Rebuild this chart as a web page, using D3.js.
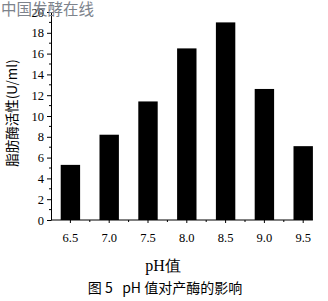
<!DOCTYPE html>
<meta charset="utf-8">
<head>
  <script src="https://cdnjs.cloudflare.com/ajax/libs/d3/7.8.5/d3.min.js"></script>
  <style>
    body { margin: 0; background: #fff; }
    svg { display: block; }
  </style>
</head>
<body>
  <div id="my_dataviz"></div>
  <script>

    // data
    var phLabels = ["6.5", "7.0", "7.5", "8.0", "8.5", "9.0", "9.5"];
    var activity = [5.3, 8.2, 11.4, 16.5, 19.0, 12.6, 7.1];
    var yTicks = [0, 2, 4, 6, 8, 10, 12, 14, 16, 18, 20];

    var width = 328, height = 301;
    var margin = { top: 12, left: 51, bottom: 81 };
    var plotBottom = height - margin.bottom;

    var svg = d3.select("#my_dataviz")
      .append("svg")
      .attr("width", width)
      .attr("height", height);

    var serif = "'Liberation Serif', 'DejaVu Serif', serif";
    var cjk = "'Noto Sans CJK SC', sans-serif";

    // scales
    var x = d3.scaleBand()
      .domain(phLabels)
      .range([margin.left, 322.6])
      .paddingInner(0.5)
      .paddingOuter(0.25);

    var y = d3.scaleLinear()
      .domain([0, 20])
      .range([plotBottom, margin.top]);

    // bars
    svg.selectAll("rect.bar")
      .data(activity)
      .enter()
      .append("rect")
      .attr("class", "bar")
      .attr("x", function (d, i) { return x(phLabels[i]); })
      .attr("y", function (d) { return y(d); })
      .attr("width", x.bandwidth())
      .attr("height", function (d) { return y(0) - y(d); })
      .attr("fill", "#000");

    // Y axis with minor ticks
    var yAxis = svg.append("g")
      .attr("transform", "translate(" + margin.left + ",0)")
      .call(d3.axisLeft(y).tickValues(yTicks).tickSize(4).tickPadding(3).tickSizeOuter(0));
    yAxis.selectAll("text").style("font-family", serif).style("font-size", "12.5px").attr("fill", "#000");
    yAxis.selectAll("line, path").attr("stroke", "#000");

    svg.append("g")
      .selectAll("line")
      .data(d3.range(1, 20, 2))
      .enter()
      .append("line")
      .attr("x1", margin.left - 2)
      .attr("x2", margin.left)
      .attr("y1", function (d) { return y(d); })
      .attr("y2", function (d) { return y(d); })
      .attr("stroke", "#000");

    // X axis
    var lastEnd = x(phLabels[phLabels.length - 1]) + x.bandwidth();
    svg.append("line")
      .attr("x1", margin.left)
      .attr("x2", lastEnd)
      .attr("y1", plotBottom)
      .attr("y2", plotBottom)
      .attr("stroke", "#000");

    var xg = svg.append("g");
    xg.selectAll("line.major")
      .data(phLabels)
      .enter()
      .append("line")
      .attr("x1", function (d) { return x(d) + x.bandwidth() / 2; })
      .attr("x2", function (d) { return x(d) + x.bandwidth() / 2; })
      .attr("y1", plotBottom)
      .attr("y2", plotBottom + 3)
      .attr("stroke", "#000");

    xg.selectAll("line.minor")
      .data(phLabels.slice(1))
      .enter()
      .append("line")
      .attr("x1", function (d) { return x(d) + x.bandwidth() / 2 - x.step() / 2; })
      .attr("x2", function (d) { return x(d) + x.bandwidth() / 2 - x.step() / 2; })
      .attr("y1", plotBottom)
      .attr("y2", plotBottom + 2)
      .attr("stroke", "#000");

    xg.selectAll("text")
      .data(phLabels)
      .enter()
      .append("text")
      .attr("x", function (d) { return x(d) + x.bandwidth() / 2; })
      .attr("y", plotBottom + 22)
      .attr("text-anchor", "middle")
      .style("font-family", serif)
      .style("font-size", "12.5px")
      .text(function (d) { return d; });

    // axis titles
    svg.append("text")
      .attr("transform", "translate(17,113)rotate(-90)")
      .attr("text-anchor", "middle")
      .style("font-family", cjk)
      .style("font-size", "13.5px")
      .text("脂肪酶活性(U/ml)");

    svg.append("text")
      .attr("x", 163)
      .attr("y", 271)
      .attr("text-anchor", "middle")
      .style("font-family", serif)
      .style("font-size", "16px")
      .text("pH值");

    // caption
    svg.append("text")
      .attr("x", 165)
      .attr("y", 293)
      .attr("text-anchor", "middle")
      .style("font-family", cjk)
      .style("font-size", "14px")
      .attr("xml:space", "preserve")
      .text("图 5   pH 值对产酶的影响");

    // watermark
    svg.append("text")
      .attr("x", 1)
      .attr("y", 15)
      .style("font-family", cjk)
      .style("font-size", "15.5px")
      .attr("fill", "#7d838c")
      .text("中国发酵在线");

  </script>
</body>
